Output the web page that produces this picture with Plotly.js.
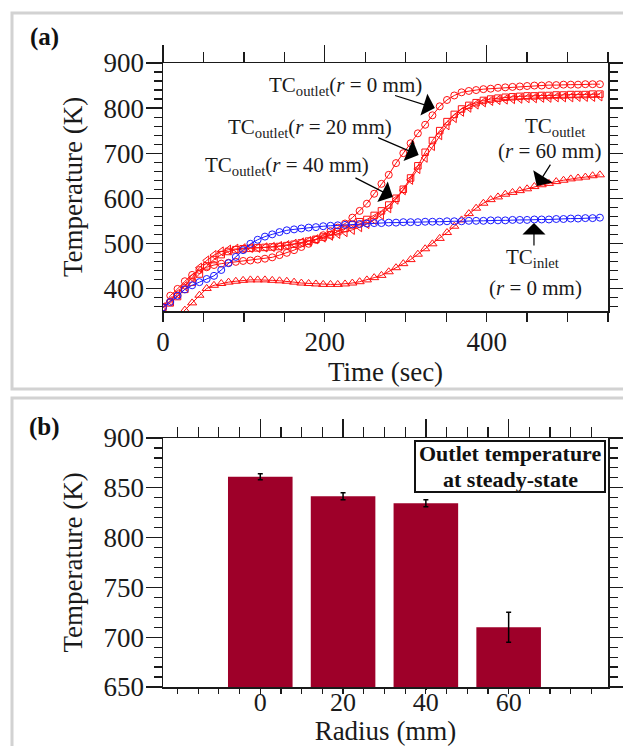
<!DOCTYPE html>
<html>
<head>
<meta charset="utf-8">
<script src="https://cdn.plot.ly/plotly-3.0.1.min.js"></script>
<style>
html,body{margin:0;padding:0;background:#fff;}
#chart{width:623px;height:746px;}
</style>
</head>
<body>
<div id="chart"></div>
<script>
// ---------- Panel (a): temperature history ----------
const timeSec = [0,9,18,27,36,45,54,63,72,81,90,99,108,117,126,135,144,153,162,171,180,189,198,207,216,225,234,243,252,261,270,279,288,297,306,315,324,333,342,351,360,369,378,387,396,405,414,423,432,441,450,459,468,477,486,495,504,513,522,531,540];

const tcInlet = [358,370,384,398,407,414,421,428,441,456,470,485,499,508,515,520,525,529,531,533,535,536,538,539,540,541,542,543,544,545,545,546,546,547,547,547,548,548,548,549,549,549,550,550,550,551,551,551,552,552,552,553,553,553,554,554,555,555,556,556,557];

const tcOutletR0 = [358,384,399,416,430,441,447,452,455,457,459,461,462,464,466,469,474,479,485,492,499,508,518,527,535,544,557,572,588,610,632,652,678,700,722,744,763,784,804,818,828,835,838,840,842,843,845,846,847,848,849,850,850,851,851,852,852,852,853,853,853];

const tcOutletR20 = [358,368,382,398,414,432,450,464,475,482,486,488,489,490,491,492,493,495,498,501,505,509,514,519,526,533,541,548,553,562,572,585,600,620,645,672,702,728,750,770,786,798,806,812,817,820,822,824,825,826,827,827,828,828,829,829,830,830,830,831,831];

const tcOutletR40 = [358,372,388,405,424,446,462,474,482,486,488,489,490,490,491,492,494,496,499,502,505,509,513,517,521,525,530,536,543,552,563,578,597,618,641,665,690,716,740,762,778,792,801,808,813,816,818,819,820,821,822,822,823,823,824,824,824,825,825,825,826];

const tcOutletR60 = [300,315,332,352,368,385,400,407,411,414,416,418,419,419,419,418,417,416,414,412,411,410,409,409,409,410,412,415,419,424,429,437,446,455,464,476,488,499,511,524,538,552,566,578,589,597,603,609,613,617,621,626,630,633,637,640,643,645,647,650,652];

// ---------- Panel (b): steady-state outlet temperature ----------
const radiusMm = [0, 20, 40, 60];
const radiusLabels = ['0', '20', '40', '60'];
const steadyTemp = [861, 841.5, 834.5, 710];
const steadyErr = [3, 3.5, 3.5, 15];

// ---------- styling ----------
const W = 623, H = 746;
const FONT = 'Liberation Serif, Times New Roman, serif';
const RED = '#ff1010';
const BLUE = '#1a1aff';
const BAR = '#9e0029';
const AX = '#1a1a1a';
const fx = p => p / W;
const fy = p => 1 - p / H;

function series(y, symbol, color, size) {
  return {
    type: 'scatter', mode: 'lines+markers',
    x: timeSec, y: y, xaxis: 'x', yaxis: 'y',
    line: {color: color, width: 1},
    marker: {symbol: symbol, size: size, color: color, line: {color: color, width: 1}},
    showlegend: false, hoverinfo: 'x+y'
  };
}

const traces = [
  series(tcOutletR60, 'triangle-up-open', RED, 8),
  series(tcOutletR40, 'triangle-left-open', RED, 8),
  series(tcOutletR20, 'square-open', RED, 6.5),
  series(tcOutletR0, 'circle-open', RED, 7),
  series(tcInlet, 'circle-open', BLUE, 7),
  {type: 'scatter', x: [], y: [], xaxis: 'x3', yaxis: 'y', showlegend: false, hoverinfo: 'skip'},
  {
    type: 'bar', x: radiusMm, y: steadyTemp, xaxis: 'x2', yaxis: 'y2',
    width: 15.6,
    marker: {color: BAR, line: {width: 0}},
    error_y: {type: 'data', array: steadyErr, visible: true, color: '#000', thickness: 1.5, width: 2.5},
    showlegend: false
  },
  {type: 'scatter', x: [], y: [], xaxis: 'x4', yaxis: 'y2', showlegend: false, hoverinfo: 'skip'}
];

const tickFont = {family: FONT, size: 27, color: '#1a1a1a'};
const titleFont = {family: FONT, size: 27, color: '#1a1a1a'};

const baseAxis = {
  showgrid: false, zeroline: false, showline: true,
  linecolor: AX, linewidth: 1.5, tickcolor: AX, tickwidth: 1.3,
  ticks: 'outside', tickfont: tickFont
};

const xDomA = [fx(163), fx(608)];
const yDomA = [fy(311), fy(63)];
const yDomB = [fy(687), fy(438)];

const layout = {
  width: W, height: H,
  margin: {l: 0, r: 0, t: 0, b: 0},
  paper_bgcolor: '#fff', plot_bgcolor: '#fff',
  showlegend: false,
  font: {family: FONT, color: '#1a1a1a'},
  xaxis: Object.assign({}, baseAxis, {
    domain: xDomA, anchor: 'y', range: [0, 550],
    tickmode: 'linear', tick0: 0, dtick: 200, ticklen: 9, ticklabelstandoff: -3,
    minor: {tickmode: 'linear', tick0: 0, dtick: 50, ticklen: 9, ticks: 'outside', tickcolor: AX, tickwidth: 1.2},
    title: {text: 'Time (sec)', font: titleFont, standoff: 4}
  }),
  xaxis3: Object.assign({}, baseAxis, {
    overlaying: 'x', side: 'top', anchor: 'y', range: [0, 550],
    tickmode: 'linear', tick0: 0, dtick: 200, ticklen: 17,
    showticklabels: false,
    minor: {tickmode: 'linear', tick0: 0, dtick: 50, ticklen: 10, ticks: 'outside', tickcolor: AX, tickwidth: 1.2}
  }),
  yaxis: Object.assign({}, baseAxis, {
    domain: yDomA, anchor: 'x', range: [350, 900],
    tickmode: 'linear', tick0: 0, dtick: 100, ticklen: 16, mirror: 'ticks', ticklabelstandoff: -4,
    minor: {tickmode: 'linear', tick0: 0, dtick: 20, ticklen: 8, ticks: 'outside', tickcolor: AX, tickwidth: 1.2},
    title: {text: 'Temperature (K)', font: titleFont, standoff: 13}
  }),
  xaxis2: Object.assign({}, baseAxis, {
    domain: xDomA, anchor: 'y2', range: [-23.5, 84],
    tickmode: 'array', tickvals: radiusMm, ticktext: radiusLabels, ticklen: 1, ticklabelstandoff: -10,
    tickfont: {family: FONT, size: 26, color: '#1a1a1a'},
    minor: {tickmode: 'linear', tick0: 0, dtick: 5, ticklen: 5, ticks: 'outside', tickcolor: AX, tickwidth: 1.2},
    title: {text: 'Radius (mm)', font: titleFont, standoff: 5}
  }),
  xaxis4: Object.assign({}, baseAxis, {
    overlaying: 'x2', side: 'top', anchor: 'y2', range: [-23.5, 84],
    tickmode: 'array', tickvals: radiusMm, ticklen: 18,
    showticklabels: false,
    minor: {tickmode: 'linear', tick0: 0, dtick: 5, ticklen: 10, ticks: 'outside', tickcolor: AX, tickwidth: 1.2}
  }),
  yaxis2: Object.assign({}, baseAxis, {
    domain: yDomB, anchor: 'x2', range: [650, 900],
    tickmode: 'linear', tick0: 0, dtick: 50, ticklen: 16, mirror: 'ticks', ticklabelstandoff: -4,
    minor: {tickmode: 'linear', tick0: 0, dtick: 10, ticklen: 8, ticks: 'outside', tickcolor: AX, tickwidth: 1.2},
    title: {text: 'Temperature (K)', font: titleFont, standoff: 13}
  }),
  shapes: [
    {type: 'rect', xref: 'paper', yref: 'paper', x0: fx(12), x1: 1.05, y0: fy(389), y1: fy(13),
     line: {color: '#d2d2d2', width: 3}, fillcolor: 'rgba(0,0,0,0)', layer: 'below'},
    {type: 'rect', xref: 'paper', yref: 'paper', x0: fx(12), x1: 1.05, y0: -0.05, y1: fy(398),
     line: {color: '#d2d2d2', width: 3}, fillcolor: 'rgba(0,0,0,0)', layer: 'below'},
    {type: 'rect', xref: 'paper', yref: 'paper', x0: fx(415), x1: fx(605), y0: fy(492), y1: fy(441),
     line: {color: '#111', width: 2}, fillcolor: '#fff', layer: 'above'}
  ],
  annotations: []
};

const annFont = {family: FONT, size: 21, color: '#1a1a1a'};
function label(text, x, y) {
  return {xref: 'x', yref: 'y', x: x, y: y, text: text, showarrow: false, font: annFont, xanchor: 'center', yanchor: 'middle'};
}
function arrow(xTip, yTip, xTail, yTail) {
  return {xref: 'x', yref: 'y', axref: 'x', ayref: 'y', x: xTip, y: yTip, ax: xTail, ay: yTail,
          text: '', showarrow: true, arrowhead: 1, arrowsize: 3.2, arrowwidth: 1.2, arrowcolor: '#000', standoff: 0};
}
const boxFont = {family: FONT, size: 22, color: '#111'};

layout.annotations.push(
  label('TC<sub>outlet</sub>(<i>r</i> = 0 mm)', 226, 849),
  label('TC<sub>outlet</sub>(<i>r</i> = 20 mm)', 182, 756),
  label('TC<sub>outlet</sub>(<i>r</i> = 40 mm)', 153, 672),
  label('TC<sub>outlet</sub>', 484, 757),
  label('(<i>r</i> = 60 mm)', 478, 705),
  label('TC<sub>inlet</sub>', 457, 468),
  label('(<i>r</i> = 0 mm)', 460, 401),
  arrow(336, 800, 285, 829),
  arrow(316, 696, 264, 736),
  arrow(284, 603, 236, 647),
  arrow(462, 627, 480, 678),
  arrow(458.5, 545, 458.5, 492),
  {xref: 'paper', yref: 'paper', x: fx(44), y: fy(37), text: '<b>(a)</b>', showarrow: false,
   font: {family: FONT, size: 25, color: '#111'}, xanchor: 'center', yanchor: 'middle'},
  {xref: 'paper', yref: 'paper', x: fx(44), y: fy(427), text: '<b>(b)</b>', showarrow: false,
   font: {family: FONT, size: 25, color: '#111'}, xanchor: 'center', yanchor: 'middle'},
  {xref: 'paper', yref: 'paper', x: fx(510), y: fy(454), text: '<b>Outlet temperature</b>', showarrow: false,
   font: boxFont, xanchor: 'center', yanchor: 'middle'},
  {xref: 'paper', yref: 'paper', x: fx(510), y: fy(479), text: '<b>at steady-state</b>', showarrow: false,
   font: boxFont, xanchor: 'center', yanchor: 'middle'}
);

Plotly.newPlot('chart', traces, layout, {staticPlot: true, displayModeBar: false});
</script>
</body>
</html>
